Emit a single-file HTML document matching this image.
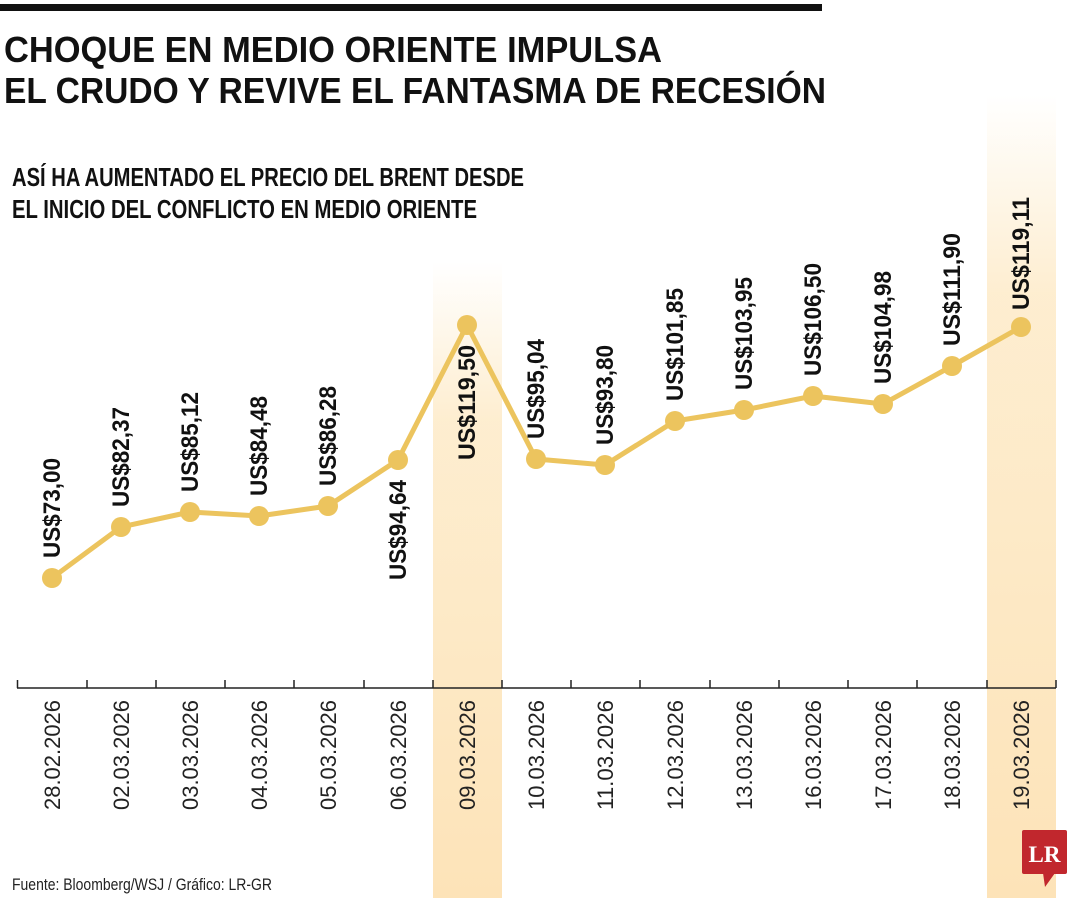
<!DOCTYPE html>
<html><head><meta charset="utf-8"><style>
html,body{margin:0;padding:0;background:#fff;}
svg{display:block;font-family:"Liberation Sans",sans-serif;}
</style></head><body>
<svg width="1080" height="900" viewBox="0 0 1080 900" xmlns="http://www.w3.org/2000/svg">
<defs>
<linearGradient id="g1" x1="0" y1="0" x2="0" y2="1">
<stop offset="0" stop-color="#fde9c4" stop-opacity="0"/>
<stop offset="0.25" stop-color="#fde9c4" stop-opacity="0.8"/>
<stop offset="1" stop-color="#fde3b8"/>
</linearGradient>
</defs>
<rect x="0" y="4" width="822" height="7" fill="#111"/>
<text x="4" y="62" font-size="36" font-weight="bold" fill="#111" textLength="658" lengthAdjust="spacingAndGlyphs">CHOQUE EN MEDIO ORIENTE IMPULSA</text>
<text x="4" y="103" font-size="36" font-weight="bold" fill="#111" textLength="822" lengthAdjust="spacingAndGlyphs">EL CRUDO Y REVIVE EL FANTASMA DE RECESIÓN</text>
<text x="12" y="186" font-size="26" font-weight="bold" fill="#111" textLength="512" lengthAdjust="spacingAndGlyphs">ASÍ HA AUMENTADO EL PRECIO DEL BRENT DESDE</text>
<text x="12" y="218" font-size="26" font-weight="bold" fill="#111" textLength="465" lengthAdjust="spacingAndGlyphs">EL INICIO DEL CONFLICTO EN MEDIO ORIENTE</text>

<rect x="433" y="262" width="69" height="636" fill="url(#g1)"/>
<rect x="987" y="95" width="69" height="803" fill="url(#g1)"/>

<line x1="17" y1="688" x2="1056" y2="688" stroke="#222" stroke-width="1.5"/>
<g stroke="#222" stroke-width="1.5">
<line x1="17.5" y1="680" x2="17.5" y2="688"/><line x1="87" y1="680" x2="87" y2="688"/><line x1="156" y1="680" x2="156" y2="688"/><line x1="225" y1="680" x2="225" y2="688"/><line x1="294" y1="680" x2="294" y2="688"/><line x1="364" y1="680" x2="364" y2="688"/><line x1="433" y1="680" x2="433" y2="688"/><line x1="502" y1="680" x2="502" y2="688"/><line x1="571" y1="680" x2="571" y2="688"/><line x1="640" y1="680" x2="640" y2="688"/><line x1="710" y1="680" x2="710" y2="688"/><line x1="779" y1="680" x2="779" y2="688"/><line x1="848" y1="680" x2="848" y2="688"/><line x1="917" y1="680" x2="917" y2="688"/><line x1="987" y1="680" x2="987" y2="688"/><line x1="1056" y1="680" x2="1056" y2="688"/>
</g>

<polyline fill="none" stroke="#ecc45e" stroke-width="5" stroke-linejoin="round" points="52,578 121,527 190,512 259,516 328,506 398,460 467,325 536,459 605,465 675,421 744,410 813,396 883,404 952,366 1021,327"/>
<g fill="#ecc45e">
<circle cx="52" cy="578" r="10"/><circle cx="121" cy="527" r="10"/><circle cx="190" cy="512" r="10"/><circle cx="259" cy="516" r="10"/><circle cx="328" cy="506" r="10"/><circle cx="398" cy="460" r="10"/><circle cx="467" cy="325" r="10"/><circle cx="536" cy="459" r="10"/><circle cx="605" cy="465" r="10"/><circle cx="675" cy="421" r="10"/><circle cx="744" cy="410" r="10"/><circle cx="813" cy="396" r="10"/><circle cx="883" cy="404" r="10"/><circle cx="952" cy="366" r="10"/><circle cx="1021" cy="327" r="10"/>
</g>

<g font-size="24" font-weight="bold" fill="#111">
<text transform="translate(60,558) rotate(-90)" textLength="100" lengthAdjust="spacingAndGlyphs">US$73,00</text>
<text transform="translate(129,507) rotate(-90)" textLength="100" lengthAdjust="spacingAndGlyphs">US$82,37</text>
<text transform="translate(198,492) rotate(-90)" textLength="100" lengthAdjust="spacingAndGlyphs">US$85,12</text>
<text transform="translate(267,496) rotate(-90)" textLength="100" lengthAdjust="spacingAndGlyphs">US$84,48</text>
<text transform="translate(336,486) rotate(-90)" textLength="100" lengthAdjust="spacingAndGlyphs">US$86,28</text>
<text transform="translate(406,580) rotate(-90)" textLength="100" lengthAdjust="spacingAndGlyphs">US$94,64</text>
<text transform="translate(475,460) rotate(-90)" textLength="115" lengthAdjust="spacingAndGlyphs">US$119,50</text>
<text transform="translate(544,439) rotate(-90)" textLength="100" lengthAdjust="spacingAndGlyphs">US$95,04</text>
<text transform="translate(613,445) rotate(-90)" textLength="100" lengthAdjust="spacingAndGlyphs">US$93,80</text>
<text transform="translate(683,401) rotate(-90)" textLength="113" lengthAdjust="spacingAndGlyphs">US$101,85</text>
<text transform="translate(752,390) rotate(-90)" textLength="113" lengthAdjust="spacingAndGlyphs">US$103,95</text>
<text transform="translate(821,376) rotate(-90)" textLength="113" lengthAdjust="spacingAndGlyphs">US$106,50</text>
<text transform="translate(891,384) rotate(-90)" textLength="113" lengthAdjust="spacingAndGlyphs">US$104,98</text>
<text transform="translate(960,346) rotate(-90)" textLength="113" lengthAdjust="spacingAndGlyphs">US$111,90</text>
<text transform="translate(1029,310) rotate(-90)" textLength="113" lengthAdjust="spacingAndGlyphs">US$119,11</text>
</g>

<g font-size="22" fill="#222">
<text transform="translate(60,810) rotate(-90)" textLength="110" lengthAdjust="spacingAndGlyphs">28.02.2026</text>
<text transform="translate(129,810) rotate(-90)" textLength="110" lengthAdjust="spacingAndGlyphs">02.03.2026</text>
<text transform="translate(198,810) rotate(-90)" textLength="110" lengthAdjust="spacingAndGlyphs">03.03.2026</text>
<text transform="translate(267,810) rotate(-90)" textLength="110" lengthAdjust="spacingAndGlyphs">04.03.2026</text>
<text transform="translate(336,810) rotate(-90)" textLength="110" lengthAdjust="spacingAndGlyphs">05.03.2026</text>
<text transform="translate(406,810) rotate(-90)" textLength="110" lengthAdjust="spacingAndGlyphs">06.03.2026</text>
<text transform="translate(475,810) rotate(-90)" textLength="110" lengthAdjust="spacingAndGlyphs">09.03.2026</text>
<text transform="translate(544,810) rotate(-90)" textLength="110" lengthAdjust="spacingAndGlyphs">10.03.2026</text>
<text transform="translate(613,810) rotate(-90)" textLength="110" lengthAdjust="spacingAndGlyphs">11.03.2026</text>
<text transform="translate(683,810) rotate(-90)" textLength="110" lengthAdjust="spacingAndGlyphs">12.03.2026</text>
<text transform="translate(752,810) rotate(-90)" textLength="110" lengthAdjust="spacingAndGlyphs">13.03.2026</text>
<text transform="translate(821,810) rotate(-90)" textLength="110" lengthAdjust="spacingAndGlyphs">16.03.2026</text>
<text transform="translate(891,810) rotate(-90)" textLength="110" lengthAdjust="spacingAndGlyphs">17.03.2026</text>
<text transform="translate(960,810) rotate(-90)" textLength="110" lengthAdjust="spacingAndGlyphs">18.03.2026</text>
<text transform="translate(1029,810) rotate(-90)" textLength="110" lengthAdjust="spacingAndGlyphs">19.03.2026</text>
</g>

<text x="12" y="890" font-size="17" fill="#222" textLength="260" lengthAdjust="spacingAndGlyphs">Fuente: Bloomberg/WSJ / Gráfico: LR-GR</text>

<rect x="1022" y="830" width="45" height="44" rx="2" fill="#c1272d"/>
<polygon points="1043,873 1055,873 1045,887" fill="#c1272d"/>
<text x="1044.5" y="862" font-size="23" font-weight="bold" fill="#fff" text-anchor="middle" font-family="Liberation Serif,serif">LR</text>
</svg>
</body></html>
